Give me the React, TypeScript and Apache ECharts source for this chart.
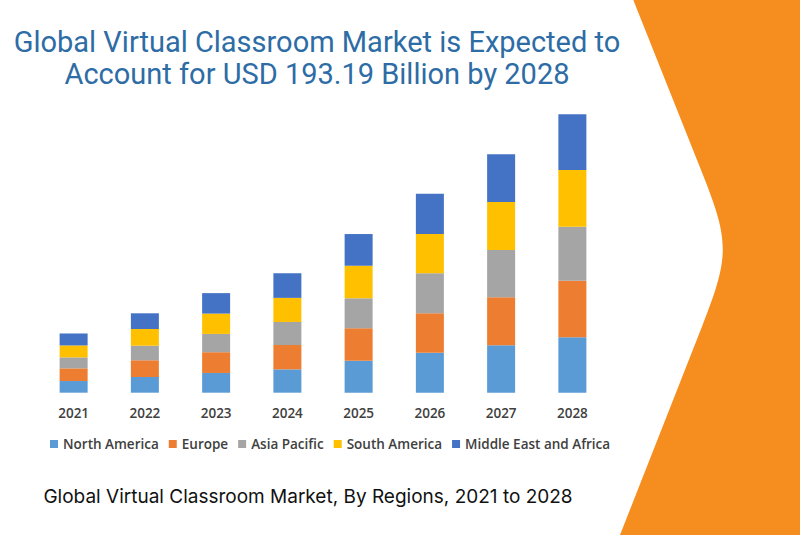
import React, { useEffect, useRef } from "react";
import * as echarts from "echarts";

const years = ["2021", "2022", "2023", "2024", "2025", "2026", "2027", "2028"];
const northAmerica = [8.1, 10.9, 13.7, 16.2, 22.2, 27.8, 32.9, 38.4];
const europe = [8.8, 11.6, 14.4, 16.9, 22.5, 27.3, 33.3, 39.3];
const asiaPacific = [7.6, 10.1, 12.7, 16.0, 20.8, 27.8, 32.8, 37.5];
const southAmerica = [8.3, 11.6, 14.1, 16.7, 22.6, 27.3, 33.3, 39.3];
const middleEastAfrica = [8.3, 10.9, 14.2, 17.1, 22.0, 27.8, 33.1, 38.7];

const seriesNames = ["North America", "Europe", "Asia Pacific", "South America", "Middle East and Africa"];
const seriesData = [northAmerica, europe, asiaPacific, southAmerica, middleEastAfrica];
const seriesColors = ["#5B9BD5", "#ED7D31", "#A5A5A5", "#FFC000", "#4472C4"];

const titleLines = ["Global Virtual Classroom Market is Expected to", "Account for USD 193.19 Billion by 2028"];
const subtitle = "Global Virtual Classroom Market, By Regions, 2021 to 2028";

const shapePath =
  "M633.3 0 L800 0 L800 535 L620 535 L702.6 325 C729.4 256.6 729.5 241.6 703 175 Z";

export default function App() {
  const ref = useRef<HTMLDivElement>(null);
  useEffect(() => {
    document.body.style.margin = "0";
    echarts.graphic.registerShape("bgshape", echarts.graphic.extendPath(shapePath, {}));
    const chart = echarts.init(ref.current!, null, { renderer: "svg" });
    chart.setOption({
      animation: false,
      backgroundColor: "#ffffff",
      grid: { left: 38, width: 570, top: 104.5, height: 288.2, containLabel: false },
      xAxis: {
        type: "category",
        data: years,
        axisLine: { show: false },
        axisTick: { show: false },
        axisLabel: {
          color: "#404040",
          fontSize: 13.5,
          fontWeight: 600,
          fontFamily: "Open Sans",
          margin: 13,
        },
      },
      yAxis: {
        type: "value",
        min: 0,
        max: 200,
        show: false,
        splitLine: { show: false },
      },
      legend: {
        left: 45,
        top: 432,
        itemWidth: 8,
        itemHeight: 8,
        itemGap: 10,
        icon: "rect",
        textStyle: { color: "#404040", fontSize: 13.5, fontWeight: 600, fontFamily: "Open Sans" },
        data: seriesNames,
      },
      graphic: [
        {
          type: "bgshape",
          x: 0,
          y: 0,
          z: -10,
          silent: true,
          style: { fill: "#F68D1F" },
        },
        {
          type: "text",
          x: 317,
          y: 42,
          style: {
            text: titleLines[0],
            fill: "#2D6CA5",
            font: "29px Roboto",
            textAlign: "center",
            textVerticalAlign: "middle",
          },
        },
        {
          type: "text",
          x: 317,
          y: 74,
          style: {
            text: titleLines[1],
            fill: "#2D6CA5",
            font: "29px Roboto",
            textAlign: "center",
            textVerticalAlign: "middle",
          },
        },
        {
          type: "text",
          x: 308,
          y: 496,
          style: {
            text: subtitle,
            fill: "#111111",
            font: "19px Inter",
            textAlign: "center",
            textVerticalAlign: "middle",
          },
        },
      ],
      series: seriesNames.map((name, i) => ({
        name,
        type: "bar",
        stack: "total",
        barWidth: 28,
        data: seriesData[i],
        itemStyle: { color: seriesColors[i] },
      })),
    });
    return () => chart.dispose();
  }, []);
  return <div ref={ref} style={{ width: 800, height: 535 }} />;
}
